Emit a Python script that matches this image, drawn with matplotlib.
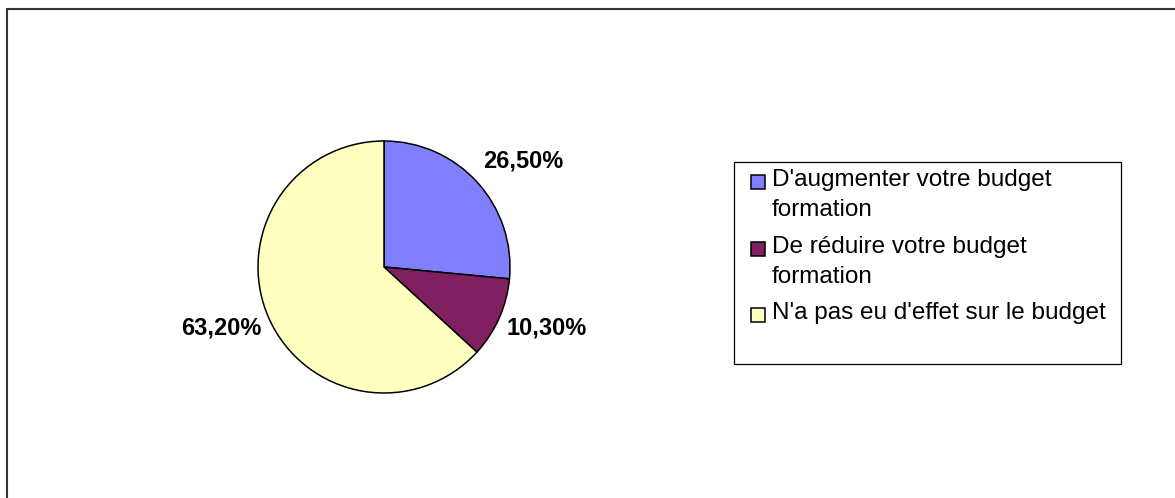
import matplotlib
matplotlib.use("Agg")
from matplotlib import pyplot as plt
from matplotlib.patches import Rectangle
import numpy as np

labels = ["D'augmenter votre budget\nformation",
          "De réduire votre budget\nformation",
          "N'a pas eu d'effet sur le budget"]
values = [26.5, 10.3, 63.2]
colors = ['#8080ff', '#802060', '#ffffc0']

plt.rcParams['font.family'] = ['Liberation Sans', 'DejaVu Sans']

W, H = 1175, 498
fig = plt.figure(figsize=(W / 100, H / 100), dpi=100)

def fx(px):
    return px / W

def fy(py):
    return 1 - py / H

# outer chart frame (runs off the right and bottom edges)
fig.patches.append(Rectangle((fx(7), fy(510)), fx(1190 - 7), (510 - 9.5) / H,
                             transform=fig.transFigure, fill=False,
                             edgecolor='#333333', linewidth=1.5, zorder=0))

# pie
r = 126
ax = fig.add_axes([fx(384 - r), fy(267 + r), 2 * r / W, 2 * r / H])
wedges, _, autotexts = ax.pie(values, colors=colors, startangle=90, counterclock=False,
                              autopct=lambda p: f'{p:.2f}%'.replace('.', ','),
                              wedgeprops=dict(edgecolor='black', linewidth=1.1),
                              textprops=dict(fontsize=17, fontweight='bold', color='black'))
ax.set_xlim(-1, 1)
ax.set_ylim(-1, 1)

# excel style "outside end" labels: anchored just past the rim at the mid angle
for w, t in zip(wedges, autotexts):
    ang = np.deg2rad((w.theta1 + w.theta2) / 2)
    x, y = 1.06 * np.cos(ang), 1.06 * np.sin(ang) + 0.035
    t.set_position((x, y))
    t.set_ha('left' if x > 0 else 'right')
    t.set_va('bottom' if y > 0 else 'top')

# legend box
fig.patches.append(Rectangle((fx(734), fy(364)), fx(1121 - 734), (364 - 162) / H,
                             transform=fig.transFigure, fill=False,
                             edgecolor='black', linewidth=0.9))
row_y = [179, 246, 312]
for lab, col, y in zip(labels, colors, row_y):
    fig.patches.append(Rectangle((fx(751), fy(y + 10)), fx(14), 14 / H,
                                 transform=fig.transFigure, facecolor=col,
                                 edgecolor='black', linewidth=1.1))
    fig.text(fx(772), fy(y - 10), lab, fontsize=17.5, va='top', ha='left',
             linespacing=1.45)

fig.savefig('out.png', dpi=100)
